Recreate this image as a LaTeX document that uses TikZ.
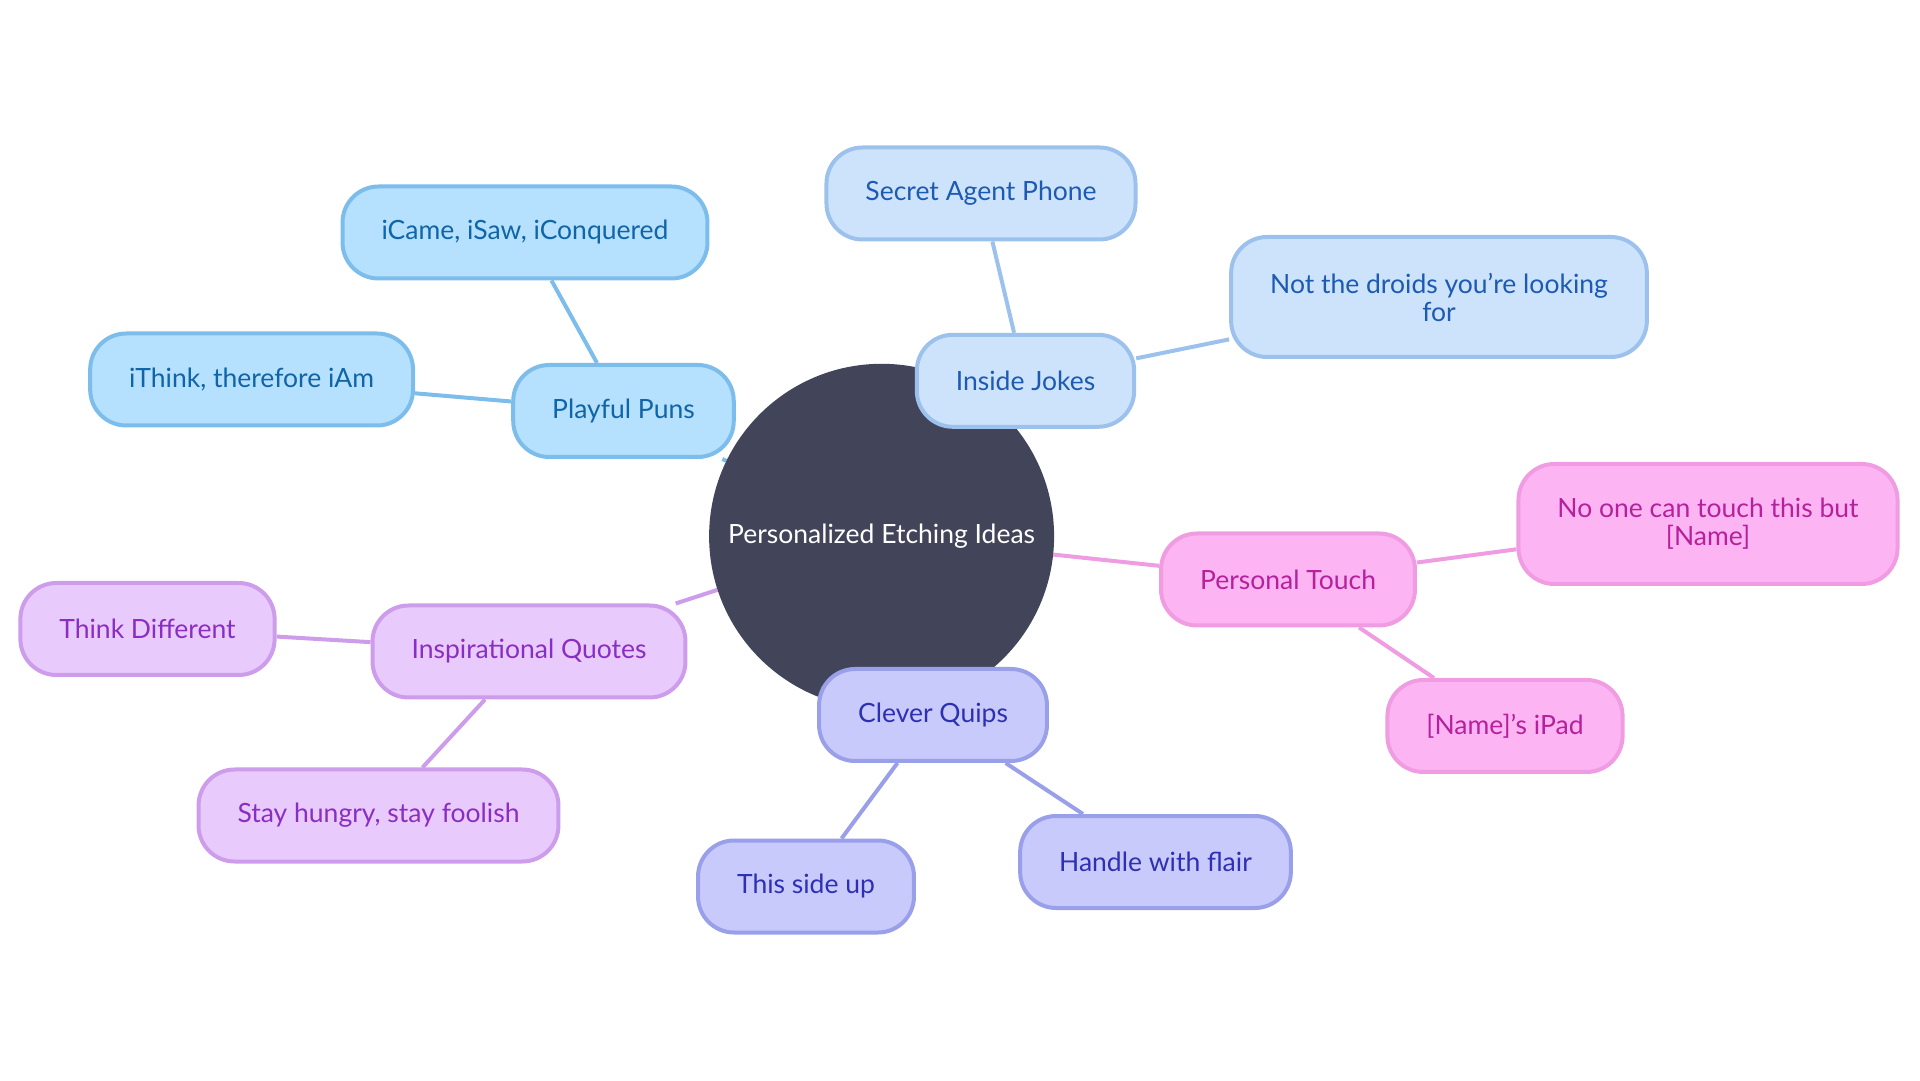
\documentclass[tikz,border=0pt]{standalone}
\usepackage{fontspec}
\setmainfont{Lato}
\usetikzlibrary{backgrounds}

\definecolor{rootfill}{HTML}{424559}
\definecolor{punsfill}{HTML}{B5E0FE}
\definecolor{punsline}{HTML}{7DBDEC}
\definecolor{punstext}{HTML}{0F65A8}
\definecolor{jokesfill}{HTML}{CDE3FB}
\definecolor{jokesline}{HTML}{9BC1EC}
\definecolor{jokestext}{HTML}{1C5AB4}
\definecolor{touchfill}{HTML}{FDB4F2}
\definecolor{touchline}{HTML}{F09CE2}
\definecolor{touchtext}{HTML}{B5219C}
\definecolor{quotesfill}{HTML}{E8CAFC}
\definecolor{quotesline}{HTML}{CD9DEC}
\definecolor{quotestext}{HTML}{8B2DC3}
\definecolor{quipsfill}{HTML}{C9CAFC}
\definecolor{quipsline}{HTML}{9A9FEA}
\definecolor{quipstext}{HTML}{2D30B0}

\begin{document}
\begin{tikzpicture}[x=1pt, y=1pt, line join=round]
\tikzset{
  box/.style={rounded corners=36pt, line width=4pt, minimum height=92pt,
    inner xsep=39pt, inner ysep=12pt, align=center,
    font=\fontsize{26.5}{28}\selectfont},
  tall/.style={minimum height=120pt},
  root/.style={circle, fill=rootfill, text=white, minimum size=345pt,
    inner sep=0pt, font=\fontsize{26.5}{28}\selectfont},
  puns/.style={box, fill=punsfill, draw=punsline, text=punstext},
  jokes/.style={box, fill=jokesfill, draw=jokesline, text=jokestext},
  touch/.style={box, fill=touchfill, draw=touchline, text=touchtext},
  quotes/.style={box, fill=quotesfill, draw=quotesline, text=quotestext},
  quips/.style={box, fill=quipsfill, draw=quipsline, text=quipstext},
  link/.style={line width=4pt},
}
\useasboundingbox (0,0) rectangle (1920,1080);

% centre
\node[root] (etch) at (881.6,543.7) {Personalized Etching Ideas};

% sections
\node[puns]   (puns)   at (623.5,669)   {Playful Puns};
\node[jokes]  (jokes)  at (1025.5,699.2) {Inside Jokes};
\node[touch]  (touch)  at (1288,500.5)  {Personal Touch};
\node[quotes] (quotes) at (529,428.5)   {Inspirational Quotes};
\node[quips]  (quips)  at (933,365)     {Clever Quips};

% leaves
\node[puns]   (came)   at (525,847.5)   {iCame, iSaw, iConquered};
\node[puns]   (think)  at (251.6,700.5) {iThink, therefore iAm};
\node[jokes]  (agent)  at (981,886.5)   {Secret Agent Phone};
\node[jokes, tall] (droids) at (1439,783) {Not the droids you’re looking\\for};
\node[touch, tall] (noone)  at (1708,556) {No one can touch this but\\{[Name]}};
\node[touch]  (ipad)   at (1505,354)    {[Name]’s iPad};
\node[quotes] (differ) at (147.5,451)   {Think Different};
\node[quotes] (hungry) at (378.5,264.5) {Stay hungry, stay foolish};
\node[quips]  (sideup) at (806,193.5)   {This side up};
\node[quips]  (flair)  at (1155.5,218)  {Handle with flair};

\begin{scope}[on background layer]
\draw[link, punsline]   (etch) -- (puns);
\draw[link, punsline]   (puns) -- (came);
\draw[link, punsline]   (puns) -- (think);
\draw[link, jokesline]  (etch) -- (jokes);
\draw[link, jokesline]  (jokes) -- (agent);
\draw[link, jokesline]  (jokes) -- (droids);
\draw[link, touchline]  (etch) -- (touch);
\draw[link, touchline]  (touch) -- (noone);
\draw[link, touchline]  (touch) -- (ipad);
\draw[link, quotesline] (etch) -- (quotes);
\draw[link, quotesline] (quotes) -- (differ);
\draw[link, quotesline] (quotes) -- (hungry);
\draw[link, quipsline]  (etch) -- (quips);
\draw[link, quipsline]  (quips) -- (sideup);
\draw[link, quipsline]  (quips) -- (flair);
\end{scope}
\end{tikzpicture}
\end{document}
